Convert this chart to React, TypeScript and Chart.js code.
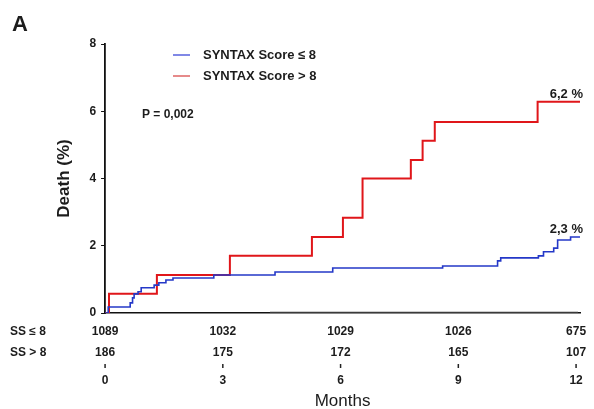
import React, { useEffect, useRef } from 'react';
import { Chart, registerables } from 'chart.js';

Chart.register(...registerables);

// ---- data ----
const monthTicks = [0, 3, 6, 9, 12];
const atRiskLow = ['1089', '1032', '1029', '1026', '675'];
const atRiskHigh = ['186', '175', '172', '165', '107'];
const riskRowLabels = ['SS ≤ 8', 'SS > 8'];
const seriesLabels = ['SYNTAX Score ≤ 8', 'SYNTAX Score > 8'];
const finalLabels = ['2,3 %', '6,2 %'];
const pValueText = 'P = 0,002';

const lowMonths = [0, 0.08, 0.64, 0.7, 0.74, 0.84, 0.92, 1.25, 1.37, 1.55, 1.73, 2.77, 4.33, 5.8, 8.6, 10.0, 10.08, 11.04, 11.17, 11.43, 11.53, 11.86, 12.12];
const lowDeath = [0, 0.18, 0.3, 0.45, 0.57, 0.63, 0.75, 0.83, 0.9, 0.98, 1.04, 1.13, 1.22, 1.34, 1.4, 1.55, 1.64, 1.7, 1.82, 1.93, 2.17, 2.26, 2.3];

const highMonths = [0, 0.1, 1.32, 3.18, 5.27, 6.06, 6.56, 7.79, 8.09, 8.4, 11.02, 12.1];
const highDeath = [0, 0.57, 1.13, 1.7, 2.26, 2.83, 4.0, 4.55, 5.12, 5.68, 6.28, 6.28];

const censorMonths = [4.2, 12.05];
const censorDeath = [0, 0];

const FONT = '"Liberation Sans", Arial, Helvetica, sans-serif';
const TEXT = '#1c1c1c';

const overlay = {
  id: 'overlay',
  afterDraw(chart: any) {
    const ctx = chart.ctx as CanvasRenderingContext2D;
    const xs = chart.scales.x;
    const ys = chart.scales.y;
    ctx.save();
    ctx.fillStyle = TEXT;

    // panel letter
    ctx.font = `bold 22px ${FONT}`;
    ctx.textAlign = 'left';
    ctx.textBaseline = 'alphabetic';
    ctx.fillText('A', 12, 31);

    // legend
    const legendColors = ['#8088e6', '#e68a8a'];
    const legendY = [55, 76];
    ctx.font = `bold 13px ${FONT}`;
    ctx.textBaseline = 'middle';
    seriesLabels.forEach((lab, i) => {
      ctx.strokeStyle = legendColors[i];
      ctx.lineWidth = 2;
      ctx.beginPath();
      ctx.moveTo(173, legendY[i]);
      ctx.lineTo(190, legendY[i]);
      ctx.stroke();
      ctx.fillStyle = TEXT;
      ctx.fillText(lab, 203, legendY[i]);
    });

    // p value
    ctx.font = `bold 12px ${FONT}`;
    ctx.fillText(pValueText, 142, 115);

    // final values
    ctx.font = `bold 13px ${FONT}`;
    ctx.textAlign = 'right';
    ctx.textBaseline = 'alphabetic';
    const endX = xs.getPixelForValue(xs.max) + 3;
    ctx.fillText(finalLabels[1], endX, ys.getPixelForValue(highDeath[highDeath.length - 1]) - 4);
    ctx.fillText(finalLabels[0], endX, ys.getPixelForValue(lowDeath[lowDeath.length - 1]) - 3);

    // at-risk table
    ctx.font = `bold 12px ${FONT}`;
    ctx.textAlign = 'left';
    ctx.textBaseline = 'middle';
    ctx.fillText(riskRowLabels[0], 10, 332);
    ctx.fillText(riskRowLabels[1], 10, 353);
    ctx.textAlign = 'center';
    monthTicks.forEach((m, i) => {
      const px = xs.getPixelForValue(m);
      ctx.fillText(atRiskLow[i], px, 332);
      ctx.fillText(atRiskHigh[i], px, 353);
      ctx.strokeStyle = '#222';
      ctx.lineWidth = 1.5;
      ctx.beginPath();
      ctx.moveTo(px, 364);
      ctx.lineTo(px, 368);
      ctx.stroke();
      ctx.fillText(String(m), px, 381);
    });

    // x title
    ctx.font = `17px ${FONT}`;
    ctx.fillText('Months', (xs.left + xs.right) / 2, 401);
    ctx.restore();
  },
};

export default function App() {
  const ref = useRef<HTMLCanvasElement | null>(null);
  useEffect(() => {
    document.body.style.margin = '0';
    const canvas = ref.current!;
    const chart = new Chart(canvas, {
      type: 'line',
      data: {
        datasets: [
          {
            label: seriesLabels[0],
            data: lowMonths.map((m, i) => ({ x: m, y: lowDeath[i] })),
            borderColor: '#2438c8',
            borderWidth: 1.6,
            stepped: true,
            pointRadius: 0,
            fill: false,
          },
          {
            label: seriesLabels[1],
            data: highMonths.map((m, i) => ({ x: m, y: highDeath[i] })),
            borderColor: '#e0161a',
            borderWidth: 2,
            stepped: true,
            pointRadius: 0,
            fill: false,
          },
          {
            label: 'censored',
            data: censorMonths.map((m, i) => ({ x: m, y: censorDeath[i] })),
            borderColor: '#3a3a3a',
            borderWidth: 2.5,
            pointRadius: 0,
            fill: false,
          },
        ],
      },
      options: {
        responsive: false,
        animation: false,
        devicePixelRatio: 1,
        layout: { padding: { left: 54, right: 14, top: 44, bottom: 96 } },
        plugins: {
          legend: { display: false },
          tooltip: { enabled: false },
          title: { display: false },
        },
        scales: {
          x: {
            type: 'linear',
            min: 0,
            max: 12.1,
            ticks: { display: false },
            grid: { display: false, drawTicks: false },
            border: { display: true, color: '#111', width: 1.6 },
          },
          y: {
            type: 'linear',
            min: 0,
            max: 8,
            ticks: {
              stepSize: 2,
              padding: 5,
              color: TEXT,
              font: { family: FONT, size: 12, weight: 'bold' },
            },
            grid: { display: true, drawOnChartArea: false, drawTicks: true, tickLength: 4, color: '#111' },
            border: { display: true, color: '#111', width: 1.8 },
            title: {
              display: true,
              text: 'Death (%)',
              color: TEXT,
              font: { family: FONT, size: 17, weight: 'bold' },
              padding: { top: 0, bottom: 10 },
            },
          },
        },
      },
      plugins: [overlay],
    });
    return () => chart.destroy();
  }, []);
  return (
    <div style={{ position: 'fixed', left: 0, top: 0, width: 594, height: 409, background: '#fff' }}>
      <canvas ref={ref} width={594} height={409} style={{ display: 'block', width: 594, height: 409 }} />
    </div>
  );
}
